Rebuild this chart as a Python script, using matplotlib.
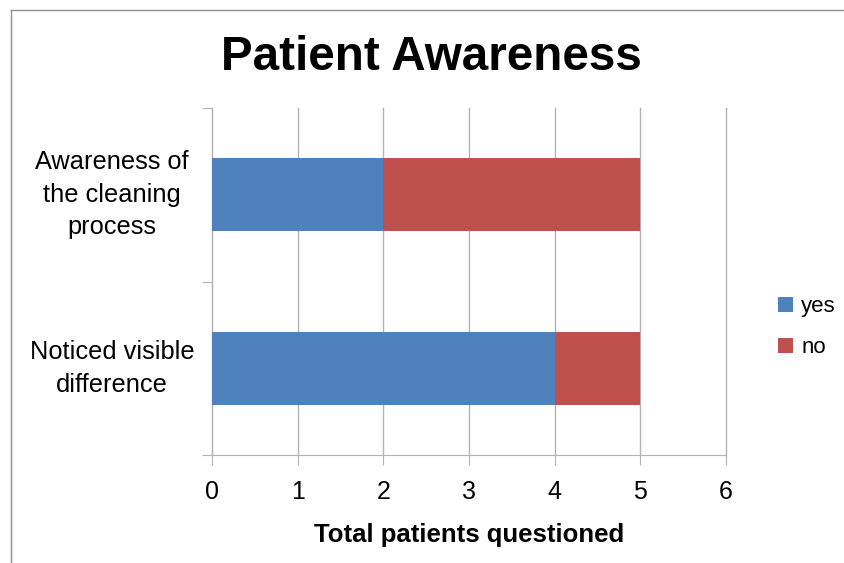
import matplotlib
matplotlib.use('Agg')
import matplotlib.pyplot as plt
from matplotlib.lines import Line2D

plt.rcParams['font.family'] = ['Liberation Sans', 'DejaVu Sans']

# chart data
categories = ['Noticed visible\ndifference', 'Awareness of\nthe cleaning\nprocess']
yes_counts = [4, 2]
no_counts = [1, 3]
x_ticks = [0, 1, 2, 3, 4, 5, 6]

blue = '#4F81BD'
red = '#C0504D'
grid_gray = '#B3B3B3'

fig = plt.figure(figsize=(8.45, 5.63), dpi=100)
ax = fig.add_axes([0.2509, 0.1918, 0.6083, 0.6164])

ypos = list(range(len(categories)))
ax.barh(ypos, yes_counts, height=0.42, color=blue, label='yes', zorder=3)
ax.barh(ypos, no_counts, left=yes_counts, height=0.42, color=red, label='no', zorder=3)

ax.set_xlim(0, 6)
ax.set_ylim(-0.5, 1.5)
ax.set_xticks(x_ticks)
ax.set_xticklabels([str(t) for t in x_ticks], fontsize=18)
ax.tick_params(axis='x', length=7, color=grid_gray, pad=11)

# category boundary ticks on the y axis, labels drawn as text
ax.set_yticks([-0.5, 0.5, 1.5])
ax.set_yticklabels([])
ax.tick_params(axis='y', length=7, color=grid_gray)
for y, name in zip(ypos, categories):
    ax.text(-0.1946, y, name, transform=ax.get_yaxis_transform(),
            ha='center', va='center', multialignment='center',
            fontsize=18.3, linespacing=1.45)

ax.grid(axis='x', color=grid_gray, linewidth=1, zorder=0)
for gl in ax.get_xgridlines():
    gl.set_clip_on(False)  # keep the last gridline at the axis edge fully visible
for side in ['top', 'right']:
    ax.spines[side].set_visible(False)
for side in ['left', 'bottom']:
    ax.spines[side].set_color(grid_gray)

ax.set_xlabel('Total patients questioned', fontsize=18.5, fontweight='bold', labelpad=14)
fig.text(0.51, 0.897, 'Patient Awareness', ha='center', va='center',
         fontsize=34.3, fontweight='bold')

fig.legend(loc='center left', bbox_to_anchor=(0.9, 0.419), frameon=False,
           fontsize=16, handlelength=0.68, handleheight=0.68,
           handletextpad=0.36, labelspacing=0.9, borderpad=0.3)

# outer chart border (top and left visible)
fig.add_artist(Line2D([0.013, 1.0], [0.983, 0.983], transform=fig.transFigure,
                      color='#8C8C8C', linewidth=1))
fig.add_artist(Line2D([0.013, 0.013], [0.0, 0.983], transform=fig.transFigure,
                      color='#8C8C8C', linewidth=1))

fig.savefig('out.png', dpi=100)
